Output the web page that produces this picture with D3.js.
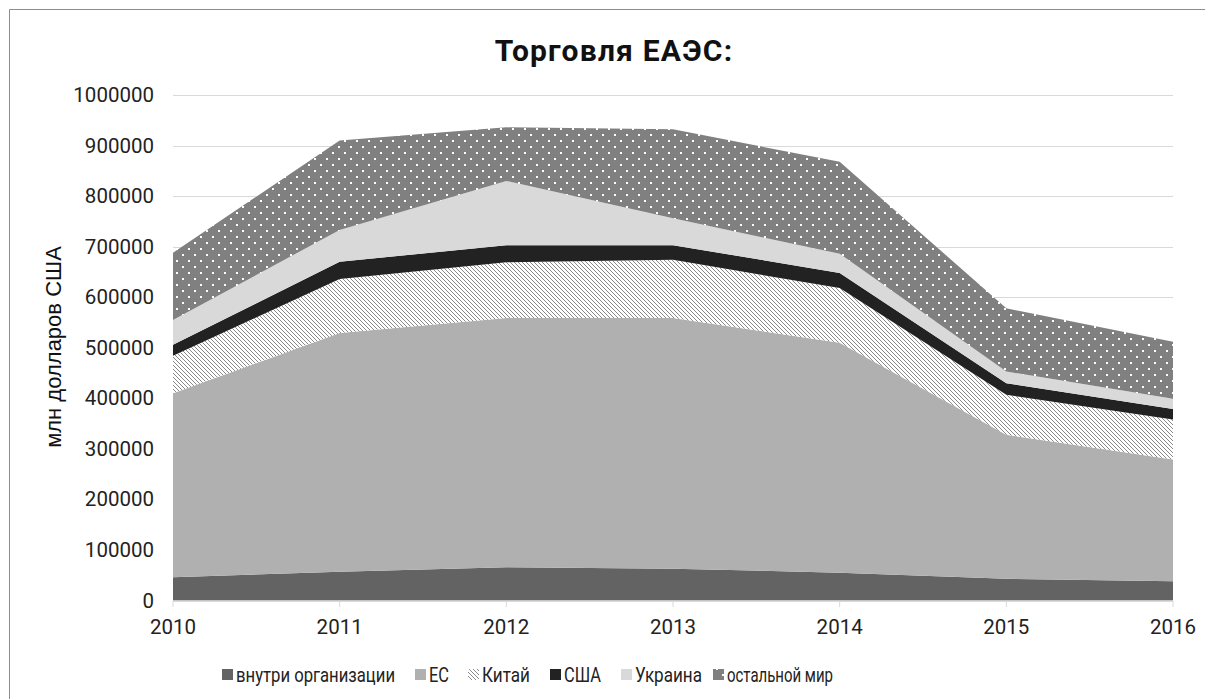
<!DOCTYPE html>
<html>
<head>
<meta charset="utf-8">
<style>
  body { margin: 0; background: #fff; }
  svg text { font-family: Roboto, sans-serif; }
  .tick-label { font-size: 20.5px; fill: #222; }
  .legend text { font-size: 19.5px; fill: #222; }
</style>
<script src="https://d3js.org/d3.v7.min.js"></script>
</head>
<body>
<script>
// values, mln USD
const years   = ['2010', '2011', '2012', '2013', '2014', '2015', '2016'];
const inside  = [46000, 57000, 66000, 63000, 55000, 43000, 38000];
const eu      = [364000, 472000, 493000, 496000, 455000, 285000, 241000];
const china   = [74000, 107000, 110000, 115000, 108000, 79000, 79000];
const usa     = [22000, 34000, 34000, 29000, 30000, 23000, 21000];
const ukraine = [49000, 63000, 127000, 53000, 38000, 23000, 20000];
const rest    = [133000, 177000, 106000, 176000, 182000, 125000, 113000];
const seriesNames = ['внутри организации', 'ЕС', 'Китай', 'США', 'Украина', 'остальной мир'];
const yTicks = [0, 100000, 200000, 300000, 400000, 500000, 600000, 700000, 800000, 900000, 1000000];

const width = 1205, height = 699;
const fills = ['#636363', '#b0b0b0', 'url(#hatch)', '#222222', '#d9d9d9', 'url(#dots)'];

const rows = years.map((y, i) => ({
  year: y, s0: inside[i], s1: eu[i], s2: china[i], s3: usa[i], s4: ukraine[i], s5: rest[i]
}));
const keys = ['s0', 's1', 's2', 's3', 's4', 's5'];

const svg = d3.select('body').append('svg')
  .attr('width', width).attr('height', height);

const defs = svg.append('defs');
// diagonal hatch for China
const hatch = defs.append('pattern').attr('id', 'hatch')
  .attr('patternUnits', 'userSpaceOnUse').attr('width', 4).attr('height', 4);
hatch.append('rect').attr('width', 4).attr('height', 4).attr('fill', '#fff');
hatch.append('path').attr('d', 'M-1,-1 L5,5 M-1,3 L1,5 M3,-1 L5,1')
  .attr('stroke', '#8a8a8a').attr('stroke-width', 1);
// white dots on grey for rest of world
const dots = defs.append('pattern').attr('id', 'dots')
  .attr('patternUnits', 'userSpaceOnUse').attr('width', 12).attr('height', 12);
dots.append('rect').attr('width', 12).attr('height', 12).attr('fill', '#808080');
dots.append('rect').attr('x', 2).attr('y', 2).attr('width', 2).attr('height', 2).attr('fill', '#fff');
dots.append('rect').attr('x', 8).attr('y', 8).attr('width', 2).attr('height', 2).attr('fill', '#fff');

// outer frame (only top/left edges are inside the picture)
svg.append('path').attr('d', `M9.5,${height} V9.5 H${width}`)
  .attr('fill', 'none').attr('stroke', '#8c8c8c').attr('stroke-width', 1);

const x = d3.scalePoint().domain(years).range([173, 1173]);
const y = d3.scaleLinear().domain([0, 1000000]).range([600.5, 95]);

// gridlines
svg.append('g').selectAll('line').data(yTicks).join('line')
  .attr('x1', 173).attr('x2', 1173)
  .attr('y1', d => Math.round(y(d)) + 0.5).attr('y2', d => Math.round(y(d)) + 0.5)
  .attr('stroke', '#d9d9d9').attr('stroke-width', 1);

const stack = d3.stack().keys(keys);
const layers = stack(rows);
const area = d3.area()
  .x(d => x(d.data.year))
  .y0(d => y(d[0]))
  .y1(d => y(d[1]));

svg.append('g').selectAll('path').data(layers).join('path')
  .attr('d', area)
  .attr('fill', (d, i) => fills[i]);

// x axis line and ticks
svg.append('line').attr('x1', 173).attr('x2', 1173).attr('y1', 601).attr('y2', 601)
  .attr('stroke', '#d9d9d9');
svg.append('g').selectAll('line').data(years).join('line')
  .attr('x1', d => x(d)).attr('x2', d => x(d)).attr('y1', 601).attr('y2', 607)
  .attr('stroke', '#d9d9d9');

svg.append('g').selectAll('text').data(years).join('text')
  .attr('class', 'tick-label')
  .attr('x', d => x(d)).attr('y', 634)
  .attr('text-anchor', 'middle')
  .text(d => d);

svg.append('g').selectAll('text').data(yTicks).join('text')
  .attr('class', 'tick-label')
  .attr('x', 154).attr('y', d => y(d))
  .attr('text-anchor', 'end').attr('dominant-baseline', 'central')
  .text(d => d);

// title
svg.append('text').attr('x', 614).attr('y', 61)
  .attr('text-anchor', 'middle')
  .style('font-size', '30px').style('font-weight', 'bold').style('fill', '#111')
  .style('letter-spacing', '1.2px')
  .text('Торговля ЕАЭС:');

// y axis title
svg.append('text')
  .attr('transform', 'translate(61,347) rotate(-90)')
  .attr('text-anchor', 'middle')
  .style('font-family', '"Liberation Sans", Arial, sans-serif')
  .style('font-size', '22px').style('fill', '#111')
  .text('млн долларов США');

// legend
const legend = svg.append('g').attr('class', 'legend');
const legendX = [222, 415, 468, 550, 621, 713];
const textW = [159, 20, 48, 37, 67, 106];
seriesNames.forEach((name, i) => {
  legend.append('rect').attr('x', legendX[i]).attr('y', 669).attr('width', 11).attr('height', 11)
    .attr('fill', fills[i]);
  legend.append('text').attr('x', legendX[i] + 14).attr('y', 682)
    .attr('textLength', textW[i]).attr('lengthAdjust', 'spacingAndGlyphs')
    .text(name);
});
</script>
</body>
</html>
